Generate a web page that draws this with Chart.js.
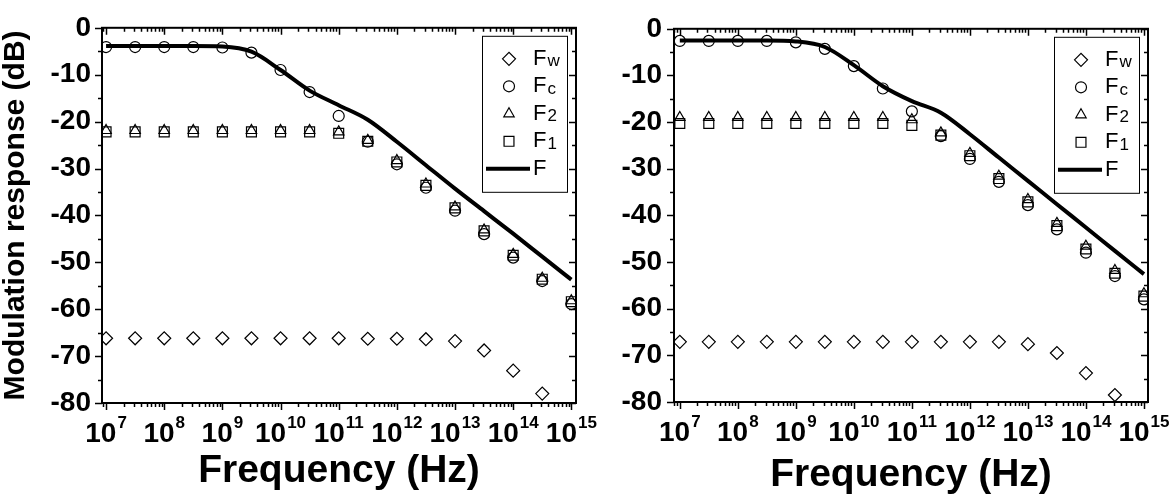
<!DOCTYPE html>
<html>
<head>
<meta charset="utf-8">
<script src="https://cdn.jsdelivr.net/npm/chart.js@4.4.1/dist/chart.umd.min.js"></script>
<style>
  body { margin: 0; background: #fff; }
  #wrap { position: relative; width: 1175px; height: 498px; }
  canvas { position: absolute; top: 0; left: 0; }
</style>
</head>
<body>
<div id="wrap">
  <canvas id="chartLeft" width="1175" height="498"></canvas>
  <canvas id="chartRight" width="1175" height="498"></canvas>
</div>
<script>
// frequencies of the samples (Hz), half decade steps
var freq = [1e7, 3.16e7, 1e8, 3.16e8, 1e9, 3.16e9, 1e10, 3.16e10, 1e11,
            3.16e11, 1e12, 3.16e12, 1e13, 3.16e13, 1e14, 3.16e14, 1e15];
var xTickExp = [7, 8, 9, 10, 11, 12, 13, 14, 15];
var yTicks = [0, -10, -20, -30, -40, -50, -60, -70, -80];
var names = ['Fw', 'Fc', 'F2', 'F1', 'F'];

// left panel
var leftFw = [-66.2, -66.2, -66.2, -66.2, -66.2, -66.2, -66.2, -66.2, -66.2,
              -66.3, -66.3, -66.4, -66.8, -68.8, -73.1, -78.0, null];
var leftFc = [-4.1, -4.1, -4.1, -4.1, -4.2, -5.3, -9.0, -13.7, -18.8,
              -24.3, -29.1, -34.1, -39.0, -44.0, -49.0, -54.0, -58.9];
var leftF2 = [-21.9, -21.9, -21.9, -21.9, -21.9, -21.9, -21.9, -21.9, -22.2,
              -24.0, -28.3, -33.3, -38.2, -43.1, -48.3, -53.4, -58.2];
var leftF1 = [-22.2, -22.2, -22.2, -22.2, -22.2, -22.2, -22.2, -22.2, -22.5,
              -24.2, -28.6, -33.6, -38.4, -43.3, -48.5, -53.6, -58.4];
var leftF = [-3.9, -3.9, -3.9, -3.9, -4.0, -5.1, -9.0, -13.4, -16.5,
             -19.6, -24.3, -29.3, -34.3, -39.1, -43.9, -48.8, -53.7];

// right panel
var rightFw = [-67.1, -67.1, -67.1, -67.1, -67.1, -67.1, -67.1, -67.1, -67.1,
               -67.1, -67.1, -67.1, -67.6, -69.5, -73.8, -78.5, null];
var rightFc = [-2.6, -2.6, -2.6, -2.6, -2.9, -4.3, -8.0, -12.8, -17.7,
               -23.0, -27.9, -32.8, -37.8, -43.0, -48.0, -53.0, -58.0];
var rightF2 = [-19.0, -19.0, -19.0, -19.0, -19.0, -19.0, -19.0, -19.0, -19.5,
               -22.3, -26.7, -31.6, -36.6, -41.7, -46.6, -51.8, -56.8];
var rightF1 = [-20.3, -20.3, -20.3, -20.3, -20.3, -20.3, -20.3, -20.3, -20.7,
               -22.8, -27.2, -32.1, -37.1, -42.2, -47.2, -52.4, -57.3];
var rightF = [-2.5, -2.5, -2.5, -2.5, -2.7, -3.9, -7.8, -12.3, -15.5,
              -18.0, -22.6, -27.6, -32.6, -37.6, -42.6, -47.6, -52.6];

var FONT = '"Liberation Sans", Arial, sans-serif';

function pts(vals) {
  var out = [];
  for (var i = 0; i < freq.length; i++) out.push({ x: freq[i], y: vals[i] });
  return out;
}

function markerSet(label, vals, style, r) {
  return {
    label: label, data: pts(vals), showLine: false,
    pointStyle: style, pointRadius: r, pointHoverRadius: r,
    pointBorderColor: '#000', pointBackgroundColor: 'rgba(0,0,0,0)',
    pointBorderWidth: 1.2, borderColor: '#000'
  };
}

function drawMarker(ctx, style, r, x, y) {
  ctx.strokeStyle = '#000';
  ctx.fillStyle = 'rgba(0,0,0,0)';
  ctx.lineWidth = 1.2;
  Chart.helpers.drawPoint(ctx, { pointStyle: style, radius: r, rotation: 0, borderWidth: 1.2 }, x, y);
}

// box, ticks and 10^n labels, drawn on the chart's own scales
var frame = {
  id: 'frame',
  afterDraw: function (chart) {
    var ctx = chart.ctx, a = chart.chartArea;
    var xs = chart.scales.x, ys = chart.scales.y;
    ctx.save();
    ctx.strokeStyle = '#000';
    ctx.lineWidth = 1.5;
    ctx.beginPath();
    for (var d = 6; d <= 15; d++) {
      for (var k = 1; k <= 9; k++) {
        var v = k * Math.pow(10, d);
        if (v < xs.min || v > xs.max) continue;
        var px = Math.round(xs.getPixelForValue(v)) + 0.5;
        var len = k === 1 ? 7 : 4;
        ctx.moveTo(px, a.bottom); ctx.lineTo(px, a.bottom + len);
        ctx.moveTo(px, a.top); ctx.lineTo(px, a.top + len);
      }
    }
    for (var t = -80; t <= 0; t += 5) {
      var py = Math.round(ys.getPixelForValue(t)) + 0.5;
      var ln = t % 10 === 0 ? 7 : 4;
      ctx.moveTo(a.left - ln, py); ctx.lineTo(a.left, py);
      ctx.moveTo(a.right - ln, py); ctx.lineTo(a.right, py);
    }
    ctx.stroke();
    ctx.lineWidth = 2;
    ctx.strokeRect(a.left, a.top, a.right - a.left, a.bottom - a.top);

    ctx.fillStyle = '#000';
    ctx.textBaseline = 'alphabetic';
    ctx.textAlign = 'left';
    xTickExp.forEach(function (e) {
      var cx = xs.getPixelForValue(Math.pow(10, e));
      ctx.font = 'bold 28px ' + FONT;
      var w1 = ctx.measureText('10').width;
      ctx.font = 'bold 17px ' + FONT;
      var w2 = ctx.measureText(String(e)).width;
      var x0 = cx - (w1 + w2 + 1) / 2;
      ctx.font = 'bold 28px ' + FONT;
      ctx.fillText('10', x0, a.bottom + 39);
      ctx.font = 'bold 17px ' + FONT;
      ctx.fillText(String(e), x0 + w1 + 1, a.bottom + 25);
    });
    ctx.restore();
  }
};

var legendBox = {
  id: 'legendBox',
  afterDraw: function (chart) {
    var ctx = chart.ctx, a = chart.chartArea;
    var bw = 85, bh = 156;
    var bx = a.right - 9 - bw, by = a.top + 8;
    ctx.save();
    ctx.fillStyle = '#fff';
    ctx.fillRect(bx, by, bw, bh);
    ctx.strokeStyle = '#000';
    ctx.lineWidth = 1;
    ctx.strokeRect(bx + 0.5, by + 0.5, bw, bh);
    chart.data.datasets.forEach(function (ds, i) {
      var yy = by + 23 + i * 27.5;
      if (ds.showLine === false) {
        drawMarker(ctx, ds.pointStyle, ds.pointRadius, bx + 27, yy);
      } else {
        ctx.strokeStyle = '#000';
        ctx.lineWidth = 4;
        ctx.beginPath();
        ctx.moveTo(bx + 4, yy); ctx.lineTo(bx + 48, yy);
        ctx.stroke();
      }
      ctx.fillStyle = '#000';
      ctx.textBaseline = 'middle';
      ctx.textAlign = 'left';
      ctx.font = '22px ' + FONT;
      ctx.fillText('F', bx + 51, yy);
      var wF = ctx.measureText('F').width;
      var sub = ds.label.slice(1);
      if (sub) {
        ctx.font = '17px ' + FONT;
        ctx.fillText(sub, bx + 51 + wF + 1, yy + 3);
      }
    });
    ctx.restore();
  }
};

function makeChart(id, set, o) {
  return new Chart(document.getElementById(id), {
    type: 'line',
    data: {
      datasets: [
        markerSet(names[0], set[0], 'rectRot', 6.5),
        markerSet(names[1], set[1], 'circle', 5.5),
        markerSet(names[2], set[2], 'triangle', 6),
        markerSet(names[3], set[3], 'rect', 7),
        {
          label: names[4], data: pts(set[4]), borderColor: '#000', borderWidth: 4,
          pointRadius: 0, pointHoverRadius: 0, fill: false,
          cubicInterpolationMode: 'monotone'
        }
      ]
    },
    options: {
      responsive: false, animation: false, devicePixelRatio: 1,
      layout: { padding: { top: 22, right: o.padRight, left: o.padLeft, bottom: 0 } },
      plugins: { legend: { display: false }, tooltip: { enabled: false } },
      scales: {
        x: {
          type: 'logarithmic', min: o.xmin, max: o.xmax,
          grid: { display: false, drawTicks: false }, border: { display: false },
          ticks: { display: false },
          title: {
            display: true, text: 'Frequency (Hz)', color: '#000',
            font: { family: FONT, size: 39, weight: 'bold', lineHeight: 1 },
            padding: { top: 0, bottom: o.titlePad }
          },
          afterFit: function (s) { s.height = o.xh; }
        },
        y: {
          min: -80, max: 0,
          afterBuildTicks: function (s) { s.ticks = yTicks.map(function (v) { return { value: v }; }); },
          grid: { display: false, drawTicks: false }, border: { display: false },
          ticks: {
            color: '#000', padding: o.labelPad,
            font: { family: FONT, size: 28, weight: 'bold' },
            callback: function (v) { return String(v); }
          },
          title: {
            display: o.ytitle, text: 'Modulation response (dB)', color: '#000',
            font: { family: FONT, size: 30, weight: 'bold', lineHeight: 1 },
            padding: { top: 1, bottom: 0 }
          },
          afterFit: function (s) { s.width = o.yw; }
        }
      }
    },
    plugins: [frame, legendBox]
  });
}

makeChart('chartLeft', [leftFw, leftFc, leftF2, leftF1, leftF], {
  padLeft: 0, padRight: 599, xmin: Math.pow(10, 6.93), xmax: Math.pow(10, 15.08),
  xh: 95, yw: 102, ytitle: true, labelPad: 11, titlePad: 7
});
makeChart('chartRight', [rightFw, rightFc, rightF2, rightF1, rightF], {
  padLeft: 587, padRight: 27, xmin: Math.pow(10, 6.9), xmax: Math.pow(10, 15.07),
  xh: 96, yw: 87, ytitle: false, labelPad: 12, titlePad: 3
});
</script>
</body>
</html>
